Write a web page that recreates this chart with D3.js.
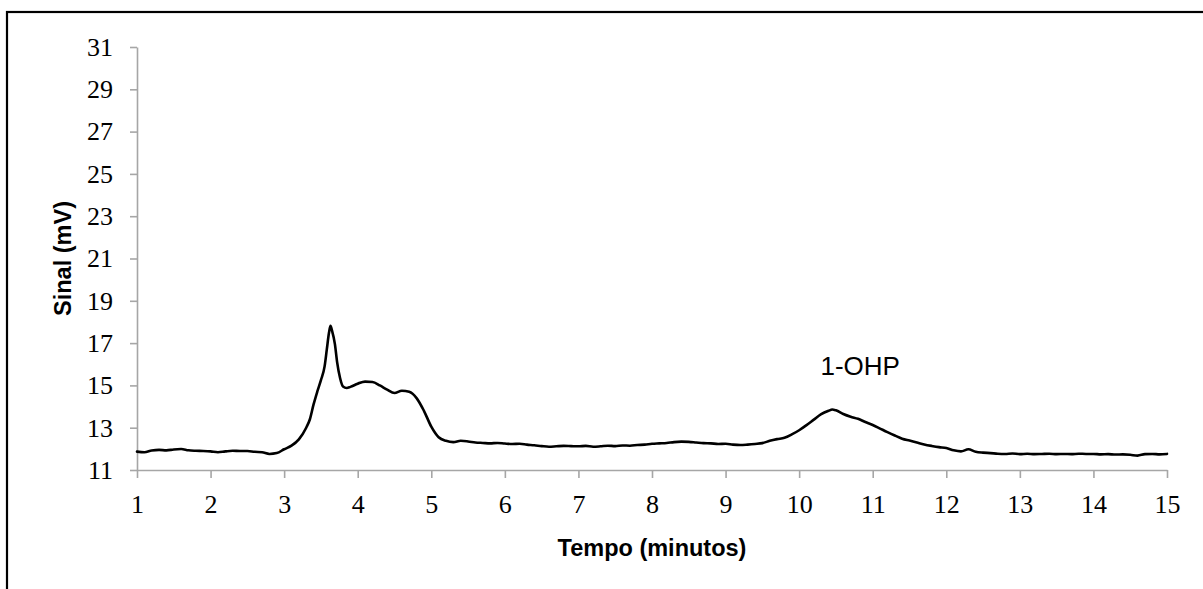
<!DOCTYPE html>
<html>
<head>
<meta charset="utf-8">
<script src="https://cdn.jsdelivr.net/npm/d3@7"></script>
<style>
  html, body { margin: 0; padding: 0; background: #fff; }
  svg { display: block; }
</style>
</head>
<body>
<svg id="chart" width="1203" height="589"></svg>
<script>
// Chromatogram trace: retention time (min) and detector signal (mV)
const tempo = [
  1.0, 1.1, 1.2, 1.3, 1.4, 1.5, 1.6, 1.7, 1.8, 1.9,
  2.0, 2.1, 2.2, 2.3, 2.4, 2.5, 2.6, 2.7, 2.8, 2.9,
  3.0, 3.1, 3.2, 3.3, 3.35, 3.4, 3.45, 3.5, 3.55, 3.58,
  3.61, 3.63, 3.65, 3.69, 3.72, 3.76, 3.8, 3.85, 3.9, 4.0,
  4.1, 4.2, 4.3, 4.4, 4.5, 4.6, 4.7, 4.8, 4.9, 5.0,
  5.1, 5.2, 5.3, 5.4, 5.5, 5.6, 5.7, 5.8, 5.9, 6.0,
  6.1, 6.2, 6.3, 6.4, 6.5, 6.6, 6.7, 6.8, 6.9, 7.0,
  7.1, 7.2, 7.3, 7.4, 7.5, 7.6, 7.7, 7.8, 7.9, 8.0,
  8.1, 8.2, 8.3, 8.4, 8.5, 8.6, 8.7, 8.8, 8.9, 9.0,
  9.1, 9.2, 9.3, 9.4, 9.5, 9.6, 9.7, 9.8, 9.9, 10.0,
  10.1, 10.2, 10.3, 10.4, 10.45, 10.5, 10.6, 10.7, 10.8, 10.9,
  11.0, 11.1, 11.2, 11.3, 11.4, 11.5, 11.6, 11.7, 11.8, 11.9,
  12.0, 12.1, 12.2, 12.3, 12.4, 12.5, 12.6, 12.7, 12.8, 12.9,
  13.0, 13.1, 13.2, 13.3, 13.4, 13.5, 13.6, 13.7, 13.8, 13.9,
  14.0, 14.1, 14.2, 14.3, 14.4, 14.5, 14.6, 14.7, 14.8, 14.9,
  15.0
];
const sinal = [
  11.87, 11.84, 11.92, 11.95, 11.93, 11.97, 11.99, 11.93, 11.91, 11.90,
  11.88, 11.84, 11.88, 11.91, 11.90, 11.90, 11.86, 11.84, 11.76, 11.80,
  11.98, 12.15, 12.45, 13.00, 13.40, 14.10, 14.70, 15.25, 15.90, 16.70,
  17.50, 17.82, 17.60, 16.95, 16.10, 15.35, 14.95, 14.88, 14.93, 15.08,
  15.18, 15.16, 15.00, 14.80, 14.64, 14.75, 14.70, 14.40, 13.80, 13.05,
  12.55, 12.38, 12.32, 12.38, 12.35, 12.30, 12.28, 12.26, 12.28, 12.25,
  12.23, 12.24, 12.20, 12.17, 12.13, 12.10, 12.12, 12.14, 12.13, 12.12,
  12.14, 12.10, 12.12, 12.15, 12.13, 12.16, 12.15, 12.18, 12.20, 12.24,
  12.26, 12.28, 12.32, 12.34, 12.33, 12.30, 12.27, 12.26, 12.23, 12.24,
  12.20, 12.18, 12.20, 12.23, 12.27, 12.38, 12.46, 12.52, 12.68, 12.88,
  13.12, 13.38, 13.64, 13.80, 13.86, 13.82, 13.65, 13.52, 13.42, 13.27,
  13.13, 12.96, 12.79, 12.63, 12.48, 12.39, 12.30, 12.21, 12.14, 12.08,
  12.04, 11.93, 11.88, 11.98, 11.86, 11.82, 11.80, 11.77, 11.76, 11.78,
  11.75, 11.77, 11.75, 11.76, 11.77, 11.75, 11.76, 11.75, 11.77, 11.76,
  11.76, 11.74, 11.75, 11.73, 11.74, 11.72, 11.68, 11.75, 11.76, 11.74,
  11.76
];

const xTicks = [1, 2, 3, 4, 5, 6, 7, 8, 9, 10, 11, 12, 13, 14, 15];
const yTicks = [11, 13, 15, 17, 19, 21, 23, 25, 27, 29, 31];

const xTitle = "Tempo (minutos)";
const yTitle = "Sinal (mV)";
const peakLabel = { text: "1-OHP", t: 10.83, v: 15.49 };

const svg = d3.select("#chart");

// outer frame of the chart area
svg.append("rect")
  .attr("x", 7).attr("y", 12)
  .attr("width", 1400).attr("height", 800)
  .attr("fill", "none")
  .attr("stroke", "#000")
  .attr("stroke-width", 2.2);

const plot = { left: 137, right: 1167, top: 47, bottom: 470 };

const x = d3.scaleLinear().domain([1, 15]).range([plot.left, plot.right]);
const y = d3.scaleLinear().domain([11, 31]).range([plot.bottom, plot.top]);

const axisColor = "#A6A6A6";
const tickFont = "'Liberation Serif', 'Times New Roman', serif";

// y axis
const gy = svg.append("g")
  .attr("transform", `translate(${plot.left},0)`)
  .call(d3.axisLeft(y).tickValues(yTicks).tickSize(7).tickPadding(17).tickSizeOuter(0));
// x axis
const gx = svg.append("g")
  .attr("transform", `translate(0,${plot.bottom})`)
  .call(d3.axisBottom(x).tickValues(xTicks).tickSize(8).tickPadding(17).tickSizeOuter(0));

[gx, gy].forEach(g => {
  g.select(".domain").attr("stroke", axisColor).attr("stroke-width", 1.6);
  g.selectAll(".tick line").attr("stroke", axisColor).attr("stroke-width", 1.6);
  g.selectAll(".tick text")
    .attr("fill", "#000")
    .style("font-family", tickFont)
    .style("font-size", "26px");
});

// signal trace
const pts = tempo.map((t, i) => [t, sinal[i]]);
const line = d3.line()
  .x(d => x(d[0]))
  .y(d => y(d[1]))
  .curve(d3.curveMonotoneX);

svg.append("path")
  .datum(pts)
  .attr("d", line)
  .attr("fill", "none")
  .attr("stroke", "#000")
  .attr("stroke-width", 2.6)
  .attr("stroke-linejoin", "round")
  .attr("stroke-linecap", "round");

// peak annotation
svg.append("text")
  .attr("x", x(peakLabel.t))
  .attr("y", y(peakLabel.v))
  .attr("text-anchor", "middle")
  .style("font-family", "'Liberation Sans', Arial, sans-serif")
  .style("font-size", "26px")
  .attr("fill", "#000")
  .text(peakLabel.text);

// axis titles
svg.append("text")
  .attr("x", (plot.left + plot.right) / 2)
  .attr("y", 556)
  .attr("text-anchor", "middle")
  .style("font-family", "'Liberation Sans', Arial, sans-serif")
  .style("font-size", "23.5px")
  .style("font-weight", "bold")
  .attr("fill", "#000")
  .text(xTitle);

svg.append("text")
  .attr("transform", `translate(71,${(plot.top + plot.bottom) / 2}) rotate(-90)`)
  .attr("text-anchor", "middle")
  .style("font-family", "'Liberation Sans', Arial, sans-serif")
  .style("font-size", "23.5px")
  .style("font-weight", "bold")
  .attr("fill", "#000")
  .text(yTitle);
</script>
</body>
</html>
